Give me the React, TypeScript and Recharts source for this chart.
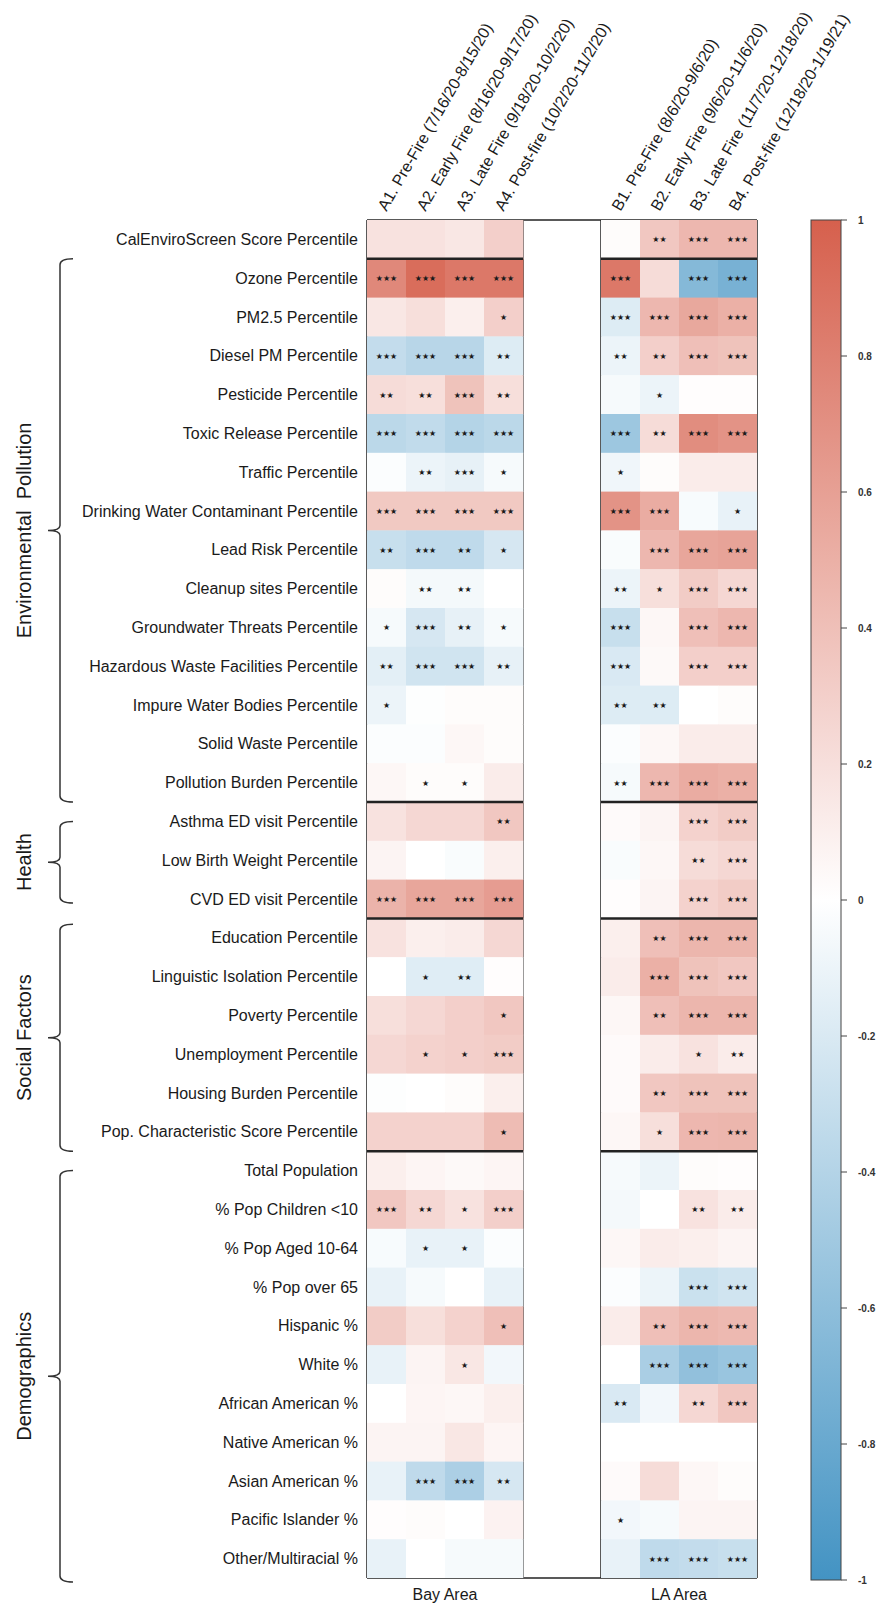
import { ScatterChart, Scatter, XAxis, YAxis, ReferenceLine } from "recharts"

const rowLabels = [
  "CalEnviroScreen Score Percentile",
  "Ozone Percentile",
  "PM2.5 Percentile",
  "Diesel PM Percentile",
  "Pesticide Percentile",
  "Toxic Release Percentile",
  "Traffic Percentile",
  "Drinking Water Contaminant Percentile",
  "Lead Risk Percentile",
  "Cleanup sites Percentile",
  "Groundwater Threats Percentile",
  "Hazardous Waste Facilities Percentile",
  "Impure Water Bodies Percentile",
  "Solid Waste Percentile",
  "Pollution Burden Percentile",
  "Asthma ED visit Percentile",
  "Low Birth Weight Percentile",
  "CVD ED visit Percentile",
  "Education Percentile",
  "Linguistic Isolation Percentile",
  "Poverty Percentile",
  "Unemployment Percentile",
  "Housing Burden Percentile",
  "Pop. Characteristic Score Percentile",
  "Total Population",
  "% Pop Children <10",
  "% Pop Aged 10-64",
  "% Pop over 65",
  "Hispanic %",
  "White %",
  "African American %",
  "Native American %",
  "Asian American %",
  "Pacific Islander %",
  "Other/Multiracial %",
]

const colLabels = [
  "A1. Pre-Fire (7/16/20-8/15/20)",
  "A2. Early Fire (8/16/20-9/17/20)",
  "A3. Late Fire (9/18/20-10/2/20)",
  "A4. Post-fire (10/2/20-11/2/20)",
  "B1. Pre-Fire (8/6/20-9/6/20)",
  "B2. Early Fire (9/6/20-11/6/20)",
  "B3. Late Fire (11/7/20-12/18/20)",
  "B4. Post-fire (12/18/20-1/19/21)",
]

// slot of each column on the 10-wide grid (two empty slots between areas)
const colSlots = [0, 1, 2, 3, 6, 7, 8, 9]

const areaLabels = ["Bay Area", "LA Area"]
const areaCenters = [2, 8]

// correlation per row, columns A1..A4
const bayCorr = [
  [0.18, 0.18, 0.15, 0.3],
  [0.75, 0.92, 0.85, 0.85],
  [0.15, 0.2, 0.1, 0.3],
  [-0.32, -0.38, -0.38, -0.18],
  [0.22, 0.2, 0.38, 0.2],
  [-0.36, -0.33, -0.4, -0.36],
  [-0.02, -0.1, -0.13, -0.05],
  [0.34, 0.34, 0.34, 0.34],
  [-0.3, -0.34, -0.34, -0.22],
  [0.02, -0.06, -0.06, 0.0],
  [-0.05, -0.22, -0.13, -0.05],
  [-0.15, -0.25, -0.25, -0.13],
  [-0.1, -0.01, 0.02, 0.02],
  [-0.02, -0.02, 0.05, 0.02],
  [0.05, 0.02, 0.02, 0.12],
  [0.18, 0.25, 0.25, 0.35],
  [0.07, 0.0, -0.03, 0.1],
  [0.48, 0.56, 0.56, 0.62],
  [0.18, 0.1, 0.12, 0.25],
  [0.0, -0.17, -0.17, 0.01],
  [0.2, 0.25, 0.3, 0.35],
  [0.25, 0.28, 0.3, 0.32],
  [-0.01, 0.0, 0.02, 0.1],
  [0.28, 0.28, 0.28, 0.42],
  [0.1, 0.06, 0.04, 0.06],
  [0.35, 0.25, 0.18, 0.3],
  [-0.04, -0.12, -0.12, -0.02],
  [-0.12, -0.05, 0.0, -0.12],
  [0.32, 0.2, 0.28, 0.4],
  [-0.12, 0.07, 0.15, -0.07],
  [0.0, 0.06, 0.05, 0.1],
  [0.07, 0.07, 0.15, 0.06],
  [-0.12, -0.34, -0.44, -0.22],
  [0.01, 0.02, 0.0, 0.08],
  [-0.12, 0.0, -0.05, -0.05],
]

// number of significance stars, columns A1..A4
const baySig = [
  [0, 0, 0, 0],
  [3, 3, 3, 3],
  [0, 0, 0, 1],
  [3, 3, 3, 2],
  [2, 2, 3, 2],
  [3, 3, 3, 3],
  [0, 2, 3, 1],
  [3, 3, 3, 3],
  [2, 3, 2, 1],
  [0, 2, 2, 0],
  [1, 3, 2, 1],
  [2, 3, 3, 2],
  [1, 0, 0, 0],
  [0, 0, 0, 0],
  [0, 1, 1, 0],
  [0, 0, 0, 2],
  [0, 0, 0, 0],
  [3, 3, 3, 3],
  [0, 0, 0, 0],
  [0, 1, 2, 0],
  [0, 0, 0, 1],
  [0, 1, 1, 3],
  [0, 0, 0, 0],
  [0, 0, 0, 1],
  [0, 0, 0, 0],
  [3, 2, 1, 3],
  [0, 1, 1, 0],
  [0, 0, 0, 0],
  [0, 0, 0, 1],
  [0, 0, 1, 0],
  [0, 0, 0, 0],
  [0, 0, 0, 0],
  [0, 3, 3, 2],
  [0, 0, 0, 0],
  [0, 0, 0, 0],
]

// correlation per row, columns B1..B4
const laCorr = [
  [0.02, 0.35, 0.45, 0.45],
  [0.85, 0.22, -0.65, -0.72],
  [-0.18, 0.45, 0.55, 0.5],
  [-0.1, 0.3, 0.4, 0.38],
  [-0.05, -0.1, 0.01, 0.01],
  [-0.52, 0.22, 0.72, 0.68],
  [-0.08, 0.02, 0.12, 0.12],
  [0.68, 0.52, -0.04, -0.12],
  [-0.03, 0.45, 0.56, 0.58],
  [-0.1, 0.2, 0.32, 0.25],
  [-0.3, 0.05, 0.4, 0.45],
  [-0.2, 0.04, 0.3, 0.3],
  [-0.18, -0.18, 0.0, 0.02],
  [-0.02, 0.05, 0.12, 0.12],
  [-0.05, 0.45, 0.52, 0.5],
  [0.03, 0.07, 0.28, 0.32],
  [-0.03, 0.05, 0.22, 0.25],
  [0.01, 0.07, 0.28, 0.32],
  [0.1, 0.4, 0.46, 0.46],
  [0.12, 0.5, 0.38, 0.35],
  [0.05, 0.4, 0.46, 0.46],
  [0.03, 0.12, 0.18, 0.12],
  [0.03, 0.35, 0.38, 0.38],
  [0.05, 0.2, 0.45, 0.46],
  [-0.05, -0.1, 0.02, 0.01],
  [-0.06, 0.0, 0.18, 0.12],
  [0.05, 0.12, 0.1, 0.07],
  [-0.02, -0.1, -0.28, -0.25],
  [0.12, 0.4, 0.46, 0.44],
  [0.0, -0.45, -0.58, -0.54],
  [-0.2, -0.07, 0.25, 0.35],
  [0.0, 0.0, 0.0, 0.0],
  [0.03, 0.22, 0.05, 0.02],
  [-0.07, -0.05, 0.07, 0.07],
  [-0.12, -0.34, -0.32, -0.3],
]

// number of significance stars, columns B1..B4
const laSig = [
  [0, 2, 3, 3],
  [3, 0, 3, 3],
  [3, 3, 3, 3],
  [2, 2, 3, 3],
  [0, 1, 0, 0],
  [3, 2, 3, 3],
  [1, 0, 0, 0],
  [3, 3, 0, 1],
  [0, 3, 3, 3],
  [2, 1, 3, 3],
  [3, 0, 3, 3],
  [3, 0, 3, 3],
  [2, 2, 0, 0],
  [0, 0, 0, 0],
  [2, 3, 3, 3],
  [0, 0, 3, 3],
  [0, 0, 2, 3],
  [0, 0, 3, 3],
  [0, 2, 3, 3],
  [0, 3, 3, 3],
  [0, 2, 3, 3],
  [0, 0, 1, 2],
  [0, 2, 3, 3],
  [0, 1, 3, 3],
  [0, 0, 0, 0],
  [0, 0, 2, 2],
  [0, 0, 0, 0],
  [0, 0, 3, 3],
  [0, 2, 3, 3],
  [0, 3, 3, 3],
  [2, 0, 2, 3],
  [0, 0, 0, 0],
  [0, 0, 0, 0],
  [1, 0, 0, 0],
  [0, 3, 3, 3],
]

// rows after which a thick separator is drawn
const sectionBreaks = [1, 15, 18, 24]

// bracketed groups on the left (fractional row positions)
const groups = [
  { name: "Environmental  Pollution", from: 1.0, to: 15.0 },
  { name: "Health", from: 15.5, to: 17.6 },
  { name: "Social Factors", from: 18.15, to: 24.0 },
  { name: "Demographics", from: 24.5, to: 35.1 },
]

const colorbarTicks = [1, 0.8, 0.6, 0.4, 0.2, 0, -0.2, -0.4, -0.6, -0.8, -1]

const W = 877
const H = 1605
const LEFT = 367
const TOP = 220
const COLS = 10
const ROWS = rowLabels.length
const CELL_W = 39
const CELL_H = 38.8
const RIGHT = LEFT + COLS * CELL_W
const BOTTOM = TOP + ROWS * CELL_H
const FONT = "'Liberation Sans', Arial, sans-serif"

const POS = [214, 96, 77]
const NEG = [67, 147, 195]

function corrColor(v: number) {
  const t = Math.min(1, Math.abs(v))
  const target = v >= 0 ? POS : NEG
  const c = target.map((k) => Math.round(255 + t * (k - 255)))
  return `rgb(${c[0]},${c[1]},${c[2]})`
}

const cells = rowLabels.flatMap((_, r) => [
  ...bayCorr[r].map((v, c) => ({ x: colSlots[c] + 0.5, y: r + 0.5, v, sig: baySig[r][c] })),
  ...laCorr[r].map((v, c) => ({ x: colSlots[c + 4] + 0.5, y: r + 0.5, v, sig: laSig[r][c] })),
])

// one separator per block per break, placed at the block centre
const separators = sectionBreaks.flatMap((r) => areaCenters.map((x) => ({ x, y: r })))

function HeatCell(props: any) {
  const { cx, cy, payload } = props
  return (
    <g>
      <rect
        x={cx - CELL_W / 2}
        y={cy - CELL_H / 2}
        width={CELL_W + 0.4}
        height={CELL_H + 0.4}
        fill={corrColor(payload.v)}
      />
      {payload.sig > 0 && (
        <text
          x={cx}
          y={cy + 3}
          textAnchor="middle"
          fontSize={8}
          fontFamily="'DejaVu Sans', sans-serif"
          fill="#1a1a1a"
        >
          {"★".repeat(payload.sig)}
        </text>
      )}
    </g>
  )
}

function SeparatorLine(props: any) {
  const { cx, cy } = props
  return <line x1={cx - 2 * CELL_W} x2={cx + 2 * CELL_W} y1={cy} y2={cy} stroke="#222" strokeWidth={2.5} />
}

function ColTick(props: any) {
  const { x, payload } = props
  const idx = colSlots.indexOf(payload.value - 0.5)
  const y = TOP - 8
  return (
    <text
      x={x}
      y={y}
      transform={`rotate(-60 ${x} ${y})`}
      fontSize={16}
      fontFamily={FONT}
      fill="#1a1a1a"
    >
      {colLabels[idx]}
    </text>
  )
}

function RowTick(props: any) {
  const { y, payload } = props
  return (
    <text
      x={LEFT - 9}
      y={y}
      textAnchor="end"
      dominantBaseline="central"
      fontSize={16}
      fontFamily={FONT}
      fill="#1a1a1a"
    >
      {rowLabels[Math.floor(payload.value)]}
    </text>
  )
}

function AreaTick(props: any) {
  const { x, payload } = props
  return (
    <text x={x} y={BOTTOM + 22} textAnchor="middle" fontSize={16} fontFamily={FONT} fill="#1a1a1a">
      {areaLabels[areaCenters.indexOf(payload.value)]}
    </text>
  )
}

function Decorations() {
  const rowY = (r: number) => TOP + r * CELL_H
  const barX = 811
  const barW = 30
  const barTop = 220
  const barBottom = 1580
  const vy = (v: number) => barTop + ((1 - v) / 2) * (barBottom - barTop)
  const stops = [1, 0.75, 0.5, 0.25, 0, -0.25, -0.5, -0.75, -1]
  return (
    <svg
      width={W}
      height={H}
      style={{ position: "absolute", left: 0, top: 0, pointerEvents: "none" }}
    >
      <defs>
        <linearGradient id="corrbar" x1="0" y1="0" x2="0" y2="1">
          {stops.map((v) => (
            <stop key={v} offset={`${((1 - v) / 2) * 100}%`} stopColor={corrColor(v)} />
          ))}
        </linearGradient>
      </defs>
      {groups.map((g) => {
        const ya = rowY(g.from)
        const yb = rowY(g.to)
        const ym = (ya + yb) / 2
        return (
          <g key={g.name}>
            <path
              d={`M 73 ${ya} Q 60 ${ya} 60 ${ya + 6} L 60 ${ym - 5} Q 60 ${ym} 48 ${ym} Q 60 ${ym} 60 ${ym + 5} L 60 ${yb - 6} Q 60 ${yb} 73 ${yb}`}
              fill="none"
              stroke="#333"
              strokeWidth={1.5}
            />
            <text
              x={31}
              y={ym}
              transform={`rotate(-90 31 ${ym})`}
              textAnchor="middle"
              fontSize={20}
              fontFamily={FONT}
              fill="#1a1a1a"
              style={{ whiteSpace: "pre" }}
            >
              {g.name}
            </text>
          </g>
        )
      })}
      <rect x={barX} y={barTop} width={barW} height={barBottom - barTop} fill="url(#corrbar)" stroke="#444" strokeWidth={1} />
      {colorbarTicks.map((v) => (
        <g key={v}>
          <line x1={barX + barW} x2={barX + barW + 6} y1={vy(v)} y2={vy(v)} stroke="#444" strokeWidth={1} />
          <text x={858} y={vy(v)} dominantBaseline="central" fontSize={10} fontWeight="bold" fontFamily={FONT} fill="#333">
            {v}
          </text>
        </g>
      ))}
    </svg>
  )
}

export default function App() {
  const colTicks = colSlots.map((s) => s + 0.5)
  const rowTicks = rowLabels.map((_, i) => i + 0.5)
  const lineProps = { xAxisId: "top", stroke: "#222", ifOverflow: "visible" as const }
  return (
    <div style={{ position: "absolute", left: 0, top: 0, width: W, height: H, background: "#fff" }}>
      <ScatterChart
        width={W}
        height={H}
        margin={{ top: 0, left: 0, right: W - RIGHT, bottom: 0 }}
      >
        <XAxis
          xAxisId="top"
          orientation="top"
          type="number"
          dataKey="x"
          domain={[0, COLS]}
          allowDataOverflow
          ticks={colTicks}
          interval={0}
          height={TOP}
          axisLine={false}
          tickLine={false}
          tick={<ColTick />}
        />
        <XAxis
          xAxisId="bottom"
          orientation="bottom"
          type="number"
          dataKey="x"
          domain={[0, COLS]}
          allowDataOverflow
          ticks={areaCenters}
          interval={0}
          height={H - BOTTOM}
          axisLine={false}
          tickLine={false}
          tick={<AreaTick />}
        />
        <YAxis
          type="number"
          dataKey="y"
          domain={[0, ROWS]}
          reversed
          allowDataOverflow
          ticks={rowTicks}
          interval={0}
          width={LEFT}
          axisLine={false}
          tickLine={false}
          tick={<RowTick />}
        />
        <Scatter data={cells} xAxisId="top" shape={HeatCell} isAnimationActive={false} />
        <Scatter data={separators} xAxisId="top" shape={SeparatorLine} isAnimationActive={false} />
        <ReferenceLine {...lineProps} strokeWidth={1.5} y={0} />
        <ReferenceLine {...lineProps} strokeWidth={1.5} y={ROWS} />
        <ReferenceLine {...lineProps} strokeWidth={1.5} x={0} />
        <ReferenceLine {...lineProps} strokeWidth={1.5} x={4} />
        <ReferenceLine {...lineProps} strokeWidth={1.5} x={6} />
        <ReferenceLine {...lineProps} strokeWidth={1.5} x={COLS} />
      </ScatterChart>
      <Decorations />
    </div>
  )
}
